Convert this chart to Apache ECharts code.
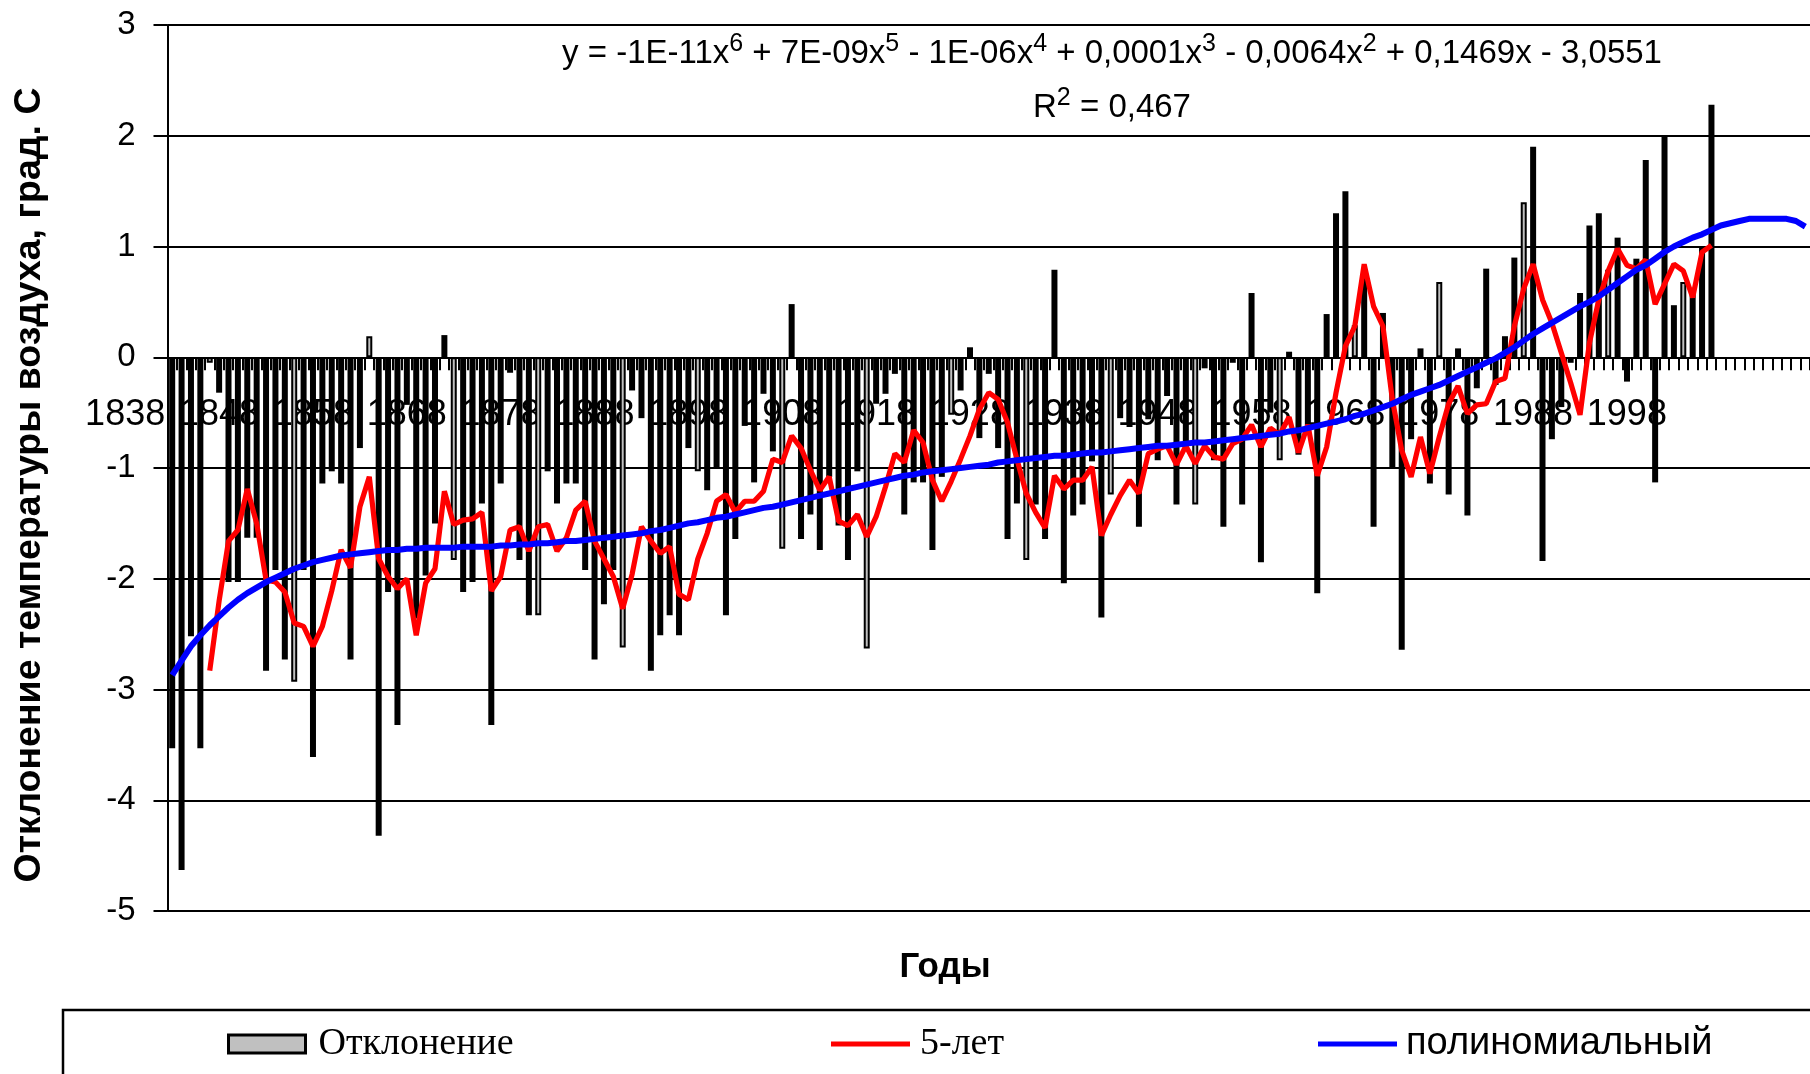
<!DOCTYPE html>
<html><head><meta charset="utf-8">
<script src="https://cdn.jsdelivr.net/npm/echarts@6/dist/echarts.min.js"></script>
<style>html,body{margin:0;padding:0;background:#fff}#c{width:1810px;height:1074px}</style>
</head><body><div id="c"></div>
<script>
// Years with data 1838..2002, then 10 empty forecast categories of the trendline
const firstYear = 1838;
const dataYears = 165;
const forecastSlots = 10;
const categories = [];
for (let i = 0; i < dataYears; i++) categories.push(String(firstYear + i));
for (let i = 0; i < forecastSlots; i++) categories.push('');

// Deviation of air temperature (bars), 1838..2002
const deviation = [
 -3.53,-4.63,-2.52,-3.53,-0.05,-0.32,-2.03,-2.03,-1.63,-1.63,
 -2.83,-1.92,-2.73,-2.93,-1.92,-3.61,-1.14,-1.03,-1.14,-2.73,
 -0.82,0.19,-4.32,-2.12,-3.32,-0.43,-2.36,-1.97,-1.50,0.20,
 -1.83,-2.12,-2.03,-1.32,-3.32,-1.14,-0.14,-1.83,-2.33,-2.33,
 -1.03,-1.32,-1.14,-1.14,-1.92,-2.73,-2.23,-1.92,-2.62,-0.30,
 -0.55,-2.83,-2.51,-2.33,-2.51,-0.82,-1.03,-1.20,-1.00,-2.33,
 -1.64,-0.62,-1.13,-0.33,-0.85,-1.73,0.48,-1.64,-1.42,-1.74,
 -1.08,-1.52,-1.83,-1.03,-2.63,-0.42,-0.33,-0.15,-1.42,-1.13,
 -1.13,-1.74,-1.08,-0.52,-0.30,0.09,-0.73,-0.15,-0.82,-1.64,
 -1.32,-1.83,-1.33,-1.64,0.79,-2.04,-1.43,-1.33,-0.94,-2.35,
 -1.24,-0.55,-0.63,-1.53,-0.56,-0.93,-0.35,-1.33,-0.80,-1.33,
 -0.10,-0.93,-1.53,-0.05,-1.33,0.58,-1.85,-0.50,-0.93,0.05,
 -0.88,-0.69,-2.13,0.39,1.30,1.50,0.29,0.72,-1.53,0.40,
 -1.00,-2.64,-0.74,0.08,-1.14,0.68,-1.24,0.08,-1.43,-0.28,
 0.80,-0.25,0.19,0.90,1.40,1.90,-1.84,-0.74,-0.45,-0.05,
 0.58,1.19,1.30,0.79,1.08,-0.22,0.89,1.78,-1.13,1.99,
 0.47,0.68,0.58,1.00,2.28
];

// Bars that appear light grey in the picture
const greyYears = [1842,1851,1859,1868,1877,1886,1894,1903,1912,1921,1929,1938,1947,1956,1964,1973,1982,1991,1999];

// 5-year moving average (red)
const movingAvg5 = [
 null,null,null,null,-2.83,-2.20,-1.66,-1.56,-1.19,-1.50,
 -2.01,-2.03,-2.12,-2.40,-2.43,-2.61,-2.43,-2.11,-1.74,-1.90,
 -1.35,-1.08,-1.82,-1.98,-2.09,-2.00,-2.51,-2.04,-1.91,-1.21,
 -1.51,-1.47,-1.46,-1.40,-2.11,-1.98,-1.56,-1.53,-1.75,-1.53,
 -1.51,-1.75,-1.63,-1.38,-1.30,-1.66,-1.82,-1.98,-2.27,-1.96,
 -1.53,-1.66,-1.77,-1.71,-2.14,-2.19,-1.82,-1.59,-1.30,-1.24,
 -1.40,-1.30,-1.30,-1.21,-0.92,-0.95,-0.71,-0.82,-1.02,-1.20,
 -1.08,-1.48,-1.52,-1.42,-1.62,-1.44,-1.17,-0.87,-0.95,-0.66,
 -0.77,-1.11,-1.30,-1.12,-0.92,-0.71,-0.47,-0.32,-0.38,-0.59,
 -0.92,-1.23,-1.40,-1.54,-1.07,-1.19,-1.11,-1.11,-0.99,-1.61,
 -1.42,-1.25,-1.11,-1.23,-0.87,-0.83,-0.80,-0.97,-0.80,-0.96,
 -0.80,-0.90,-0.92,-0.78,-0.74,-0.61,-0.81,-0.64,-0.70,-0.54,
 -0.86,-0.61,-1.07,-0.81,-0.32,0.10,0.28,0.84,0.46,0.28,
 -0.38,-0.84,-1.08,-0.72,-1.05,-0.72,-0.42,-0.26,-0.51,-0.43,
 -0.42,-0.22,-0.19,0.28,0.62,0.84,0.52,0.31,0.04,-0.23,
 -0.52,0.13,0.52,0.78,0.98,0.83,0.80,0.88,0.48,0.66,
 0.84,0.78,0.54,0.95,1.01
];

// Polynomial trend (blue), incl. forecast part
const polyTrend = [
 -2.87,-2.74,-2.61,-2.51,-2.42,-2.34,-2.26,-2.19,-2.13,-2.08,
 -2.03,-1.99,-1.95,-1.91,-1.88,-1.85,-1.83,-1.81,-1.79,-1.78,
 -1.77,-1.76,-1.75,-1.74,-1.74,-1.73,-1.73,-1.72,-1.72,-1.72,
 -1.72,-1.71,-1.71,-1.71,-1.71,-1.70,-1.70,-1.69,-1.69,-1.68,
 -1.68,-1.67,-1.66,-1.66,-1.65,-1.64,-1.63,-1.62,-1.61,-1.60,
 -1.59,-1.57,-1.56,-1.54,-1.52,-1.50,-1.49,-1.47,-1.45,-1.44,
 -1.42,-1.40,-1.38,-1.36,-1.35,-1.33,-1.31,-1.29,-1.27,-1.25,
 -1.23,-1.21,-1.19,-1.17,-1.15,-1.13,-1.11,-1.09,-1.07,-1.06,
 -1.04,-1.03,-1.02,-1.01,-1.00,-0.99,-0.98,-0.97,-0.95,-0.94,
 -0.93,-0.92,-0.91,-0.90,-0.89,-0.89,-0.88,-0.87,-0.86,-0.86,
 -0.85,-0.84,-0.83,-0.82,-0.81,-0.80,-0.80,-0.79,-0.78,-0.77,
 -0.77,-0.76,-0.75,-0.74,-0.73,-0.72,-0.71,-0.70,-0.69,-0.67,
 -0.66,-0.64,-0.62,-0.60,-0.58,-0.56,-0.53,-0.51,-0.48,-0.45,
 -0.42,-0.38,-0.34,-0.31,-0.28,-0.25,-0.21,-0.17,-0.13,-0.09,
 -0.05,-0.01,0.04,0.09,0.15,0.21,0.26,0.31,0.36,0.41,
 0.46,0.50,0.55,0.61,0.67,0.73,0.79,0.83,0.89,0.95,
 1.00,1.04,1.08,1.11,1.15,1.19,1.21,1.23,1.25,1.25,
 1.25,1.25,1.25,1.23,1.18
];

const yTicks = {min: -5, max: 3, step: 1};
const texts = {
  yName: 'Отклонение температуры воздуха, град. С',
  xName: 'Годы',
  bars: 'Отклонение',
  ma: '5-лет',
  poly: 'полиномиальный'
};

const barData = deviation.map((v, i) => {
  const y = firstYear + i;
  if (greyYears.indexOf(y) >= 0) {
    return {value: v, itemStyle: {color: '#c0c0c0', borderColor: '#000', borderWidth: 2}};
  }
  return {value: v};
});

const SANS = '"Liberation Sans", Arial, sans-serif';
const SERIF = '"Liberation Serif", "Times New Roman", serif';

// layout of the plot area (pixels)
const G = {left: 167.5, right: -4, top: 25, bottom: 163, height: 1074 - 25 - 163};
const zeroFromBottom = G.height * (0 - yTicks.min) / (yTicks.max - yTicks.min);

const chart = echarts.init(document.getElementById('c'), null, {renderer: 'canvas'});
chart.setOption({
  animation: false,
  backgroundColor: '#fff',
  grid: {left: G.left, right: G.right, top: G.top, bottom: G.bottom, containLabel: false},
  xAxis: [{
    type: 'category',
    data: categories,
    boundaryGap: true,
    axisLine: {onZero: true, lineStyle: {color: '#000', width: 2}},
    axisTick: {show: true, interval: 0, length: 13, alignWithLabel: false, lineStyle: {color: '#000', width: 2}},
    axisLabel: {show: false},
    splitLine: {show: false}
  }, {
    type: 'category',
    data: categories,
    boundaryGap: true,
    position: 'bottom',
    offset: -zeroFromBottom,
    axisLine: {show: false, onZero: false},
    axisTick: {show: false},
    axisLabel: {interval: 9, fontSize: 36, fontFamily: SANS, color: '#000', align: 'right', margin: 40, padding: [0, 7, 0, 0]},
    splitLine: {show: false}
  }],
  yAxis: {
    type: 'value',
    min: yTicks.min, max: yTicks.max, interval: yTicks.step,
    axisLine: {show: true, lineStyle: {color: '#000', width: 2}},
    axisTick: {show: true, length: 14, lineStyle: {color: '#000', width: 2}},
    axisLabel: {fontSize: 33, fontFamily: SANS, color: '#000', margin: 32},
    splitLine: {show: true, lineStyle: {color: '#000', width: 2}}
  },
  legend: [
    {data: [{name: texts.bars, icon: 'rect', itemStyle: {color: '#c0c0c0', borderColor: '#000', borderWidth: 3}}],
     left: 227, top: 1025, padding: 0, itemWidth: 77, itemHeight: 18, selectedMode: false,
     textStyle: {fontFamily: SERIF, fontSize: 38, color: '#000', padding: [0, 0, 0, 8]}},
    {data: [{name: texts.ma, icon: 'rect'}],
     left: 831, top: 1025, padding: 0, itemWidth: 79, itemHeight: 5, selectedMode: false,
     textStyle: {fontFamily: SERIF, fontSize: 38, color: '#000', padding: [0, 0, 0, 5]}},
    {data: [{name: texts.poly, icon: 'rect'}],
     left: 1318, top: 1025, padding: 0, itemWidth: 79, itemHeight: 5, selectedMode: false,
     textStyle: {fontFamily: SANS, fontSize: 38, color: '#000', padding: [0, 0, 0, 4]}}
  ],
  graphic: [
    {type: 'rect', silent: true, z: 0, shape: {x: 63, y: 1010, width: 1800, height: 120},
     style: {fill: 'none', stroke: '#000', lineWidth: 2.5}},
    {type: 'text', silent: true, x: 30, y: 485, rotation: Math.PI / 2,
     style: {text: texts.yName, font: 'bold 37.5px ' + SANS, fill: '#000', align: 'center', verticalAlign: 'middle', textAlign: 'center', textVerticalAlign: 'middle'}},
    {type: 'text', silent: true, x: 945, y: 967,
     style: {text: texts.xName, font: 'bold 35px ' + SANS, fill: '#000', align: 'center', verticalAlign: 'middle', textAlign: 'center', textVerticalAlign: 'middle'}},
    {type: 'text', silent: true, x: 1112, y: 54, z: 10,
     style: {
       text: '{m|y = -1E-11x}{s|6}{m| + 7E-09x}{s|5}{m| - 1E-06x}{s|4}{m| + 0,0001x}{s|3}{m| - 0,0064x}{s|2}{m| + 0,1469x - 3,0551}',
       align: 'center', verticalAlign: 'middle', textAlign: 'center', textVerticalAlign: 'middle',
       rich: {
         m: {fontSize: 33, fontFamily: SANS, fill: '#000', color: '#000', lineHeight: 44, verticalAlign: 'middle'},
         s: {fontSize: 25, fontFamily: SANS, fill: '#000', color: '#000', lineHeight: 26, verticalAlign: 'top'}
       }
     }},
    {type: 'text', silent: true, x: 1112, y: 108, z: 10,
     style: {
       text: '{m|R}{s|2}{m| = 0,467}',
       align: 'center', verticalAlign: 'middle', textAlign: 'center', textVerticalAlign: 'middle',
       rich: {
         m: {fontSize: 33, fontFamily: SANS, fill: '#000', color: '#000', lineHeight: 44, verticalAlign: 'middle'},
         s: {fontSize: 25, fontFamily: SANS, fill: '#000', color: '#000', lineHeight: 26, verticalAlign: 'top'}
       }
     }}
  ],
  series: [
    {type: 'bar', name: texts.bars, data: barData, barWidth: 6, z: 2,
     itemStyle: {color: '#000'}},
    {type: 'line', name: texts.ma, data: movingAvg5, symbol: 'none', z: 3,
     lineStyle: {color: '#ff0000', width: 5.2}, itemStyle: {color: '#ff0000'}},
    {type: 'line', name: texts.poly, data: polyTrend, symbol: 'none', z: 4,
     lineStyle: {color: '#0000ff', width: 6}, itemStyle: {color: '#0000ff'}}
  ]
});
</script></body></html>
